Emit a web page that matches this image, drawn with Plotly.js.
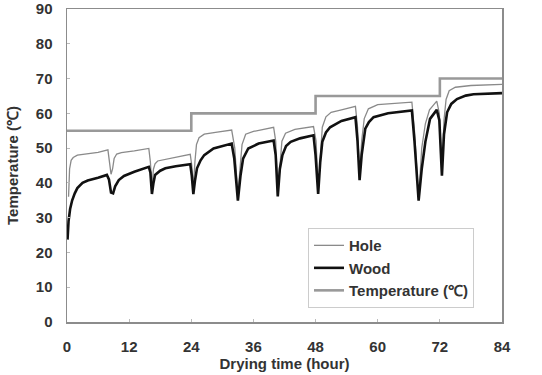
<!DOCTYPE html>
<html>
<head>
<meta charset="utf-8">
<script src="https://cdn.plot.ly/plotly-3.0.1.min.js"></script>
<style>html,body{margin:0;padding:0;background:#fff;}#chart{width:542px;height:375px;}</style>
</head>
<body>
<div id="chart"></div>
<script>
// Drying time (hour) and temperature (℃)
const woodHours = [0.1,0.3,0.6,1,1.5,2,3,4,6,7.7,
  8.1,8.5,8.9,9.3,10,11,13,15.8,
  16.1,16.4,16.7,17,18,19,21,23.8,
  24.1,24.4,24.7,25.1,25.8,26.5,28.3,30,31.8,
  32.3,33,33.5,34,35,37,39.9,
  40.3,40.7,41.1,41.6,42.3,43.2,45,47.6,
  48,48.5,48.9,49.3,50,50.8,53,55.7,
  56.1,56.5,56.9,57.6,58.3,59.2,62,66.6,
  67.1,67.9,68.5,69.2,70.1,71.4,
  71.9,72.4,72.8,73.4,74.2,75.3,77,78.5,81,84];
const woodTemp = [23.7,29,32.5,35,37,38.5,40,40.7,41.5,42.3,
  41,37.2,37,39,40.8,42,43.2,44.6,
  43,36.8,40,42.3,43.5,44.2,44.8,45.4,
  42,36.8,40.5,44.2,46.5,48,49.9,50.6,51.3,
  47,34.9,42,47,49.9,51.3,52.2,
  48,36.1,44,48,50.6,51.8,52.8,53.7,
  48,36.8,46,51.8,54.5,56,57.8,58.9,
  52,40.8,48,55.6,57.5,58.9,60,60.8,
  52,34.9,44,51.8,58.4,61,
  58,42.1,54,60.3,62.7,64.1,65.1,65.5,65.7,65.8];

const holeHours = [0.3,0.5,0.8,1.2,2,4,6,7.9,
  8.2,8.5,8.8,9.1,9.6,10.5,13,15.8,
  16.1,16.4,16.7,17,17.5,19,21,23.8,
  24.1,24.4,24.7,25,25.5,26.5,29,31.8,
  32.4,33,33.4,33.8,34.5,36,39.9,
  40.3,40.7,41.1,41.5,42.2,44,47.6,
  48.1,48.5,48.9,49.3,50,51,53,55.7,
  56.1,56.5,56.9,57.4,58.2,60,66.6,
  67.1,67.9,68.5,69.2,70,71.4,
  71.9,72.4,72.8,73.2,73.8,75,78,84];
const holeTemp = [36,44,46.5,47.3,48,48.5,48.8,49.5,
  46,42.5,44,47,48.3,48.7,49.2,49.9,
  46,39,44,45.5,46.3,46.8,47.4,48.2,
  45,38.5,46,51,53,54,54.6,55.2,
  50,36,44,51,54,54.8,56,
  52,37,46,52,54.3,55.4,56.2,
  52,37.5,48,56,59,60.3,61,62,
  56,41.5,52,58.5,61.3,62.5,63.2,
  55,35.5,50,57,61,63.5,
  60,43,58,64,66.5,67.5,68,68.3];

const setHours = [0,24,48,72,84];
const setTemp = [55,60,65,70,70];

const xTicks = [0,12,24,36,48,60,72,84];
const yTicks = [0,10,20,30,40,50,60,70,80,90];

const seriesNames = ['Hole','Wood','Temperature (\u2103)'];

const fontFam = '"Liberation Sans", Arial, sans-serif';

const traces = [
  {x: holeHours, y: holeTemp, name: seriesNames[0], mode: 'lines', line: {color: '#8a8a8a', width: 1.3}},
  {x: woodHours, y: woodTemp, name: seriesNames[1], mode: 'lines', line: {color: '#111', width: 2.6}},
  {x: setHours, y: setTemp, name: seriesNames[2], mode: 'lines', line: {color: '#999', width: 2.6, shape: 'hv'}}
];

const axisCommon = {
  showgrid: false, zeroline: false, showline: true, mirror: true,
  linecolor: '#8c8c8c', linewidth: 1.5,
  ticks: 'inside', ticklen: 3, tickcolor: '#bbb', tickwidth: 1,
  ticklabeloverflow: 'allow',
  tickfont: {family: fontFam, size: 15, color: '#333', weight: 'bold'}
};

const layout = {
  width: 542, height: 375,
  margin: {l: 67, r: 40, t: 9, b: 53},
  paper_bgcolor: '#fff', plot_bgcolor: '#fff',
  showlegend: true,
  legend: {
    x: 0.554, y: 0.30, xanchor: 'left', yanchor: 'top',
    bgcolor: '#fff', bordercolor: '#ccc', borderwidth: 1,
    font: {family: fontFam, size: 15, color: '#333', weight: 'bold'},
    tracegroupgap: 0
  },
  xaxis: Object.assign({}, axisCommon, {
    range: [0, 84], tickvals: xTicks, ticktext: xTicks.map(String),
    ticklabelstandoff: 10,
    title: {text: 'Drying time (hour)', font: {family: fontFam, size: 15, color: '#333', weight: 'bold'}, standoff: 5}
  }),
  yaxis: Object.assign({}, axisCommon, {
    range: [0, 90], tickvals: yTicks, ticktext: yTicks.map(String),
    ticklabelstandoff: 10,
    title: {text: 'Temperature (\u2103)', font: {family: fontFam, size: 15, color: '#333', weight: 'bold'}, standoff: 13}
  })
};

Plotly.newPlot('chart', traces, layout, {displayModeBar: false, staticPlot: true});
</script>
</body>
</html>
